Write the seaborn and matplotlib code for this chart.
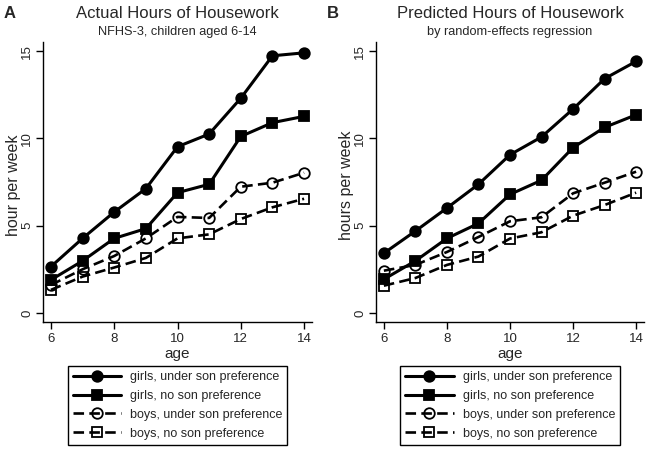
import matplotlib
matplotlib.use("Agg")
import matplotlib.pyplot as plt
import seaborn as sns

ages = [6, 7, 8, 9, 10, 11, 12, 13, 14]

actual_girls_sp = [2.65, 4.27, 5.78, 7.12, 9.52, 10.25, 12.3, 14.73, 14.9]
actual_girls_nosp = [1.89, 2.98, 4.27, 4.83, 6.89, 7.37, 10.11, 10.9, 11.26]
actual_boys_sp = [1.6, 2.5, 3.26, 4.27, 5.5, 5.44, 7.23, 7.46, 8.03]
actual_boys_nosp = [1.32, 2.08, 2.6, 3.15, 4.27, 4.5, 5.38, 6.05, 6.54]

pred_girls_sp = [3.42, 4.69, 6.01, 7.37, 9.06, 10.08, 11.68, 13.42, 14.41]
pred_girls_nosp = [1.93, 2.98, 4.27, 5.13, 6.79, 7.6, 9.47, 10.63, 11.35]
pred_boys_sp = [2.42, 2.75, 3.49, 4.35, 5.25, 5.48, 6.85, 7.46, 8.09]
pred_boys_nosp = [1.56, 2.0, 2.75, 3.23, 4.26, 4.62, 5.57, 6.18, 6.89]

labels = ["girls, under son preference", "girls, no son preference",
          "boys, under son preference", "boys, no son preference"]

sns.set_style("ticks")
plt.rcParams["font.family"] = ["Liberation Sans", "DejaVu Sans"]

# marker, fill, linestyle for each series
styles = [("o", "black", "-"), ("s", "black", "-"),
          ("o", "none", (0, (4, 2))), ("s", "none", (0, (4, 2)))]

fig = plt.figure(figsize=(6.49, 4.51), dpi=100)
W, H = 649, 451


def make_panel(left, right, series, title, subtitle, ylabel, letter, letter_x):
    ax = fig.add_axes([left / W, 1 - 322 / H, (right - left) / W, (322 - 42) / H])
    for vals, lab, (mk, fc, ls) in zip(series, labels, styles):
        sns.lineplot(x=ages, y=vals, ax=ax, color="black", marker=mk,
                     markerfacecolor=fc, markeredgecolor="black",
                     markeredgewidth=1.3, markersize=7.6 if mk == "o" else 7,
                     linestyle=ls, linewidth=2.2 if ls == "-" else 1.9,
                     label=lab)
    ax.set_xlim(5.75, 14.25)
    ax.set_ylim(-0.52, 15.52)
    ax.set_xticks([6, 8, 10, 12, 14])
    ax.set_yticks([0, 5, 10, 15])
    ax.tick_params(axis="both", length=5, width=1, labelsize=9.5, color="black")
    ax.tick_params(axis="y", pad=2)
    ax.tick_params(axis="x", pad=3)
    for t in ax.get_yticklabels():
        t.set_rotation(90)
        t.set_va("center")
    ax.set_xlabel("age", fontsize=11)
    ax.set_ylabel(ylabel, fontsize=11.5)
    ax.yaxis.set_label_coords(-22 / (right - left), 0.49)
    ax.xaxis.set_label_coords(0.5, -25 / 280)
    for s in ["top", "right"]:
        ax.spines[s].set_visible(False)
    for s in ["left", "bottom"]:
        ax.spines[s].set_linewidth(1)
        ax.spines[s].set_color("black")

    cx = (left + right) / 2 / W
    fig.text(cx, 1 - 13 / H, title, ha="center", va="center", fontsize=12)
    fig.text(cx, 1 - 32 / H, subtitle, ha="center", va="center", fontsize=9.2)
    fig.text(letter_x / W, 1 - 14 / H, letter, ha="center", va="center",
             fontsize=12, fontweight="bold")

    leg = ax.legend(loc="upper center", bbox_to_anchor=(cx, 1 - 366 / H),
                    bbox_transform=fig.transFigure, frameon=True,
                    fancybox=False, edgecolor="black", fontsize=9,
                    handlelength=3.9, handletextpad=0.7, labelspacing=0.55,
                    borderpad=0.4, borderaxespad=0, framealpha=1)
    leg.get_frame().set_linewidth(1)
    return ax


make_panel(43, 312,
           [actual_girls_sp, actual_girls_nosp, actual_boys_sp, actual_boys_nosp],
           "Actual Hours of Housework", "NFHS-3, children aged 6-14",
           "hour per week", "A", 10)
make_panel(376, 644,
           [pred_girls_sp, pred_girls_nosp, pred_boys_sp, pred_boys_nosp],
           "Predicted Hours of Housework", "by random-effects regression",
           "hours per week", "B", 333)

fig.savefig("out.png", dpi=100)
